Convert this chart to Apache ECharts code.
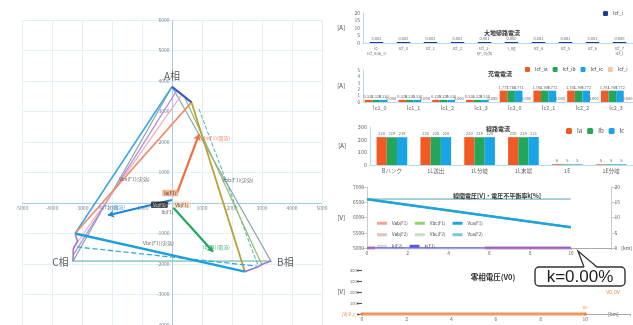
<!DOCTYPE html>
<html><head><meta charset="utf-8">
<script src="https://cdn.jsdelivr.net/npm/echarts/dist/echarts.min.js"></script>
<style>html,body{margin:0;padding:0;background:#fff}#c{width:633px;height:325px}</style>
</head><body><div id="c"></div>
<script>
const JP = '"Noto Sans CJK JP", "Noto Sans", sans-serif';

// ---- phasor diagram (V) ----
const srcA = [0, 3810], srcB = [3300, -1905], srcC = [-3300, -1905];
const fltA = [650, 3300], fltB = [2430, -2250], fltC = [-3230, -1000];
const sourceTriangle = [srcA, srcB, srcC, srcA];
const baseCB = [srcC, srcB];
const lineACblue = [srcA, fltC];
const lineACpink = [[330, 3560], [-3270, -1450]];
const lineACpurple = [[170, 3700], [-3290, -1700]];
const lineACorange = [fltA, fltC];
const lineABorange = [fltA, fltB];
const lineABgreen = [[420, 3470], [3000, -2030]];
const lineABdash = [[900, 3080], [2880, -2080]];
const lineCBblue = [fltC, fltB];
const lineCBdash = [[-3170, -1440], [2830, -2070]];
const stubA = [srcA, [320, 3560], fltA];
const stubB = [fltB, [2850, -2100], [3050, -1990], srcB];
const stubC = [fltC, [-3150, -1250], [-3290, -1500], srcC];
const vecIa = [[170, 330], [900, 2250]];
const vecIb = [[40, -150], [1370, -1600]];
const vecIc = [[0, 100], [-2130, -400]];
const phaseNames = [['A相', [0, 4150]], ['B相', [3780, -1950]], ['C相', [-3720, -1950]]];
const voltageNotes = [['Vca(F1)(実効)', [-1250, 800]], ['Vab(F1)(実効)', [2200, 750]], ['Vbc(F1)(実効)', [-450, -1300]]];
const currentNotes = [['Ia(F1)(電流)', [1500, 2130], '#f06a3c'], ['Ib(F1)(電流)', [1480, -1450], '#21a05a'], ['Ic(F1)(電流)', [-2000, -130], '#1f86d6']];
const originTags = [['Ia(F1)', [-60, 330], '#f3a47a', '#222'], ['Vc(F1)', [-420, -60], '#222', '#fff'], ['Vb(F1)', [330, -60], '#f6d4b0', '#222'], ['Ib(F1)', [-150, -290], 'transparent', '#333']];

// tick values of the phasor plane
const planeXTicks = [-5000, -4000, -3000, -2000, -1000, 1000, 2000, 3000, 4000, 5000];
const planeYTicks = [-4000, -3000, -2000, -1000, 0, 1000, 2000, 3000, 4000, 5000, 6000];
const planeXRange = [-5000, 5000], planeYRange = [-4000, 6000];

// ---- ground return current ----
const r1Cats = ['Ic-\nIcf_0(a)_0', 'Icf_0', 'Icf_1', 'Icf_2', 'Icf_3-\nI(F_0)(b)', 'I_0g', 'Icf_4', 'Icf_5', 'Icf_6', 'Icf_7\nIcf_i'];
const r1Icf = [0.002, 0.002, 0.002, 0.002, 0.001, 0.000, 0.001, 0.001, 0.001, 0.000];

// ---- charging current ----
const r2Cats = ['Ic1_0', 'Ic1_1', 'Ic1_2', 'Ic1_3', 'Ic2_0', 'Ic2_1', 'Ic2_2', 'Ic2_3'];
const icfIa = [0.332, 0.329, 0.329, 0.331, 1.777, 1.781, 1.781, 1.781];
const icfIb = [0.329, 0.329, 0.329, 0.329, 1.768, 1.769, 1.769, 1.769];
const icfIc = [0.330, 0.330, 0.330, 0.330, 1.771, 1.772, 1.772, 1.772];
const icfIsum = [0.000, 0.000, 0.000, 0.000, 0.000, 0.000, 0.000, 0.000];

// ---- line current ----
const r3Cats = ['Bバンク', '1L送出', '1L分岐', '1L末端', '1E', '1E分岐'];
const lineIa = [220, 220, 220, 220, 6, 5];
const lineIb = [219, 220, 219, 219, 5, 5];
const lineIc = [219, 220, 220, 221, 5, 5];

// ---- line voltage / unbalance ----
const distKm = [0, 10];
const vabF1 = [6600, 5679], vbcF1 = [6600, 5679], vcaF1 = [6600, 5679];
const vabF2 = [6601, 6601], vbcF2 = [6604, 6604], vcaF2 = [6604, 6604];
const kF1 = [0, 0], kF2 = [0, 0];

// ---- zero-sequence voltage ----
const v0F1 = [0, 0], v0F2 = [0, 0];

const plain = v => String(v);
const pts = (ys) => distKm.map((d, i) => [d, ys[i]]);
const lineCol = (coords, color, width, type, z) => ({
  type: 'lines', coordinateSystem: 'cartesian2d', xAxisIndex: 0, yAxisIndex: 0,
  polyline: coords.length > 2, silent: true, z: z || 2,
  data: [{ coords: coords }], lineStyle: { color: color, width: width, type: type || 'solid', opacity: 1 }
});
const vector = (coords, color) => ({
  type: 'lines', coordinateSystem: 'cartesian2d', xAxisIndex: 0, yAxisIndex: 0, z: 4,
  symbol: ['none', 'arrow'], symbolSize: 6, silent: true,
  data: [{ coords: coords }], lineStyle: { color: color, width: 2.2, opacity: 1 }
});
const notes = (list, label) => ({
  type: 'scatter', xAxisIndex: 0, yAxisIndex: 0, symbolSize: 1, z: 6, silent: true,
  itemStyle: { color: 'transparent' },
  data: list.map(n => ({ name: n[0], value: n[1],
    label: Object.assign({}, label, n[2] ? (n[3] ? { backgroundColor: n[2], color: n[3] } : { color: n[2] }) : {}) })),
  label: Object.assign({ show: true, position: 'inside', formatter: '{b}', fontFamily: JP }, label)
});
const tickLabels = (data, position, fmt) => ({
  type: 'scatter', xAxisIndex: 0, yAxisIndex: 0, symbolSize: 1, silent: true, z: 1,
  itemStyle: { color: 'transparent' }, data: data,
  label: { show: true, position: position, distance: 2, fontSize: 5, color: '#5a6b7b', formatter: fmt }
});

const smallAxis = { fontSize: 5, color: '#666', margin: 3, fontFamily: JP, formatter: plain };
const barLabel = (digits) => ({ show: true, position: 'top', distance: 1.5, fontSize: 4, color: '#666',
  formatter: p => p.value.toFixed(digits) });
const endLabel = (arr, name, offset, fmt) => distKm.map((d, i) => {
  const item = { value: [d, arr[i]] };
  if (i === distKm.length - 1) item.label = { show: true, position: 'inside', offset: offset, fontSize: 4.5, color: '#555',
    formatter: fmt || (name + ', ' + arr[i]) };
  return item;
});

const option = {
  animation: false,
  textStyle: { fontFamily: JP },
  title: [
    { text: '大地帰路電流', left: 497, top: 25, textAlign: 'center', textStyle: { fontSize: 6, fontWeight: 'bold', color: '#333' } },
    { text: '充電電流', left: 495, top: 66, textAlign: 'center', textStyle: { fontSize: 6, fontWeight: 'bold', color: '#333' } },
    { text: '線路電流', left: 493, top: 121, textAlign: 'center', textStyle: { fontSize: 6, fontWeight: 'bold', color: '#333' } },
    { text: '線間電圧[V]・電圧不平衡率k[%]', left: 492, top: 188, textAlign: 'center', textStyle: { fontSize: 6, fontWeight: 'bold', color: '#333' } },
    { text: '零相電圧(V0)', left: 488, top: 268, textAlign: 'center', textStyle: { fontSize: 7.5, fontWeight: 'bold', color: '#333' } }
  ],
  legend: [
    { data: ['Icf_i'], left: 603, top: 11, itemWidth: 5, itemHeight: 5, textStyle: { fontSize: 5, color: '#444' }, padding: 0 },
    { data: ['Icf_ia', 'Icf_ib', 'Icf_ic', 'Icf_i '], left: 525, top: 67, itemWidth: 5, itemHeight: 5, itemGap: 5,
      textStyle: { fontSize: 5, color: '#444' }, padding: 0 },
    { data: ['Ia', 'Ib', 'Ic'], left: 566, top: 128, itemWidth: 6, itemHeight: 6, itemGap: 5, width: 70,
      textStyle: { fontSize: 6, color: '#444' }, padding: 0 },
    { data: ['Vab(F1)', 'Vbc(F1)', 'Vca(F1)', 'Vab(F2)', 'Vbc(F2)', 'Vca(F2)', 'k(F2)', 'k(F1)'],
      left: 375, top: 220, width: 112, itemWidth: 10, itemHeight: 3, itemGap: 7,
      icon: 'rect', textStyle: { fontSize: 4.5, color: '#444' }, padding: [1, 2], backgroundColor: '#fff' }
  ],
  grid: [
    { left: 22, top: 20, width: 300, height: 305 },
    { left: 363, top: 13, width: 270, height: 30 },
    { left: 363, top: 70, width: 270, height: 32 },
    { left: 370, top: 127, width: 263, height: 38 },
    { left: 367, top: 187, width: 254, height: 61 },
    { left: 362, top: 270, width: 270, height: 44 }
  ],
  xAxis: [
    { type: 'value', gridIndex: 0, min: planeXRange[0], max: planeXRange[1], interval: 1000,
      axisLine: { show: false }, axisTick: { show: false },
      axisLabel: { show: false }, splitLine: { lineStyle: { color: '#e4f0f9' } } },
    { type: 'category', gridIndex: 1, data: r1Cats, axisLine: { lineStyle: { color: '#bcd9ee' } }, axisTick: { show: false },
      axisLabel: Object.assign({}, smallAxis, { fontSize: 4, interval: 0, lineHeight: 5 }) },
    { type: 'category', gridIndex: 2, data: r2Cats, axisLine: { lineStyle: { color: '#bcd9ee' } }, axisTick: { show: false },
      axisLabel: Object.assign({}, smallAxis, { fontSize: 5.5, interval: 0 }) },
    { type: 'category', gridIndex: 3, data: r3Cats, axisLine: { lineStyle: { color: '#bcd9ee' } }, axisTick: { show: false },
      axisLabel: Object.assign({}, smallAxis, { fontSize: 5.5, interval: 0 }) },
    { type: 'value', gridIndex: 4, min: 0, max: 12, interval: 2,
      axisLine: { onZero: false, lineStyle: { color: '#aaa' } }, axisTick: { length: 2 }, splitLine: { show: false },
      axisLabel: Object.assign({}, smallAxis, { formatter: v => v === 12 ? '' : String(v) }),
      name: '[km]', nameLocation: 'end', nameGap: -3, nameTextStyle: { fontSize: 5, color: '#555', padding: [16, 0, 0, 0] } },
    { type: 'value', gridIndex: 5, min: 0, max: 12, interval: 2,
      axisLine: { onZero: false, lineStyle: { color: '#aaa' } }, axisTick: { length: 2 }, splitLine: { show: false },
      axisLabel: Object.assign({}, smallAxis, { formatter: v => v === 12 ? '' : String(v) }),
      name: '[km]', nameLocation: 'end', nameGap: -22, nameTextStyle: { fontSize: 5, color: '#555', padding: [16, 0, 0, 0] } }
  ],
  yAxis: [
    { type: 'value', gridIndex: 0, min: planeYRange[0], max: planeYRange[1], interval: 1000,
      axisLine: { show: false }, axisTick: { show: false },
      axisLabel: { show: false }, splitLine: { lineStyle: { color: '#e4f0f9' } } },
    { type: 'value', gridIndex: 1, min: 0, max: 20, interval: 5, splitLine: { show: false },
      axisLine: { show: true, lineStyle: { color: '#bcd9ee' } }, axisLabel: smallAxis,
      name: '[A]', nameLocation: 'middle', nameGap: 18, nameRotate: 0, nameTextStyle: { fontSize: 6, color: '#444' } },
    { type: 'value', gridIndex: 2, min: 0, max: 5, interval: 1, splitLine: { show: false },
      axisLine: { show: true, lineStyle: { color: '#bcd9ee' } }, axisLabel: Object.assign({}, smallAxis, { fontSize: 4.5 }),
      name: '[A]', nameLocation: 'middle', nameGap: 18, nameRotate: 0, nameTextStyle: { fontSize: 6, color: '#444' } },
    { type: 'value', gridIndex: 3, min: 0, max: 300, interval: 100, splitLine: { show: false },
      axisLine: { show: true, lineStyle: { color: '#bcd9ee' } }, axisLabel: Object.assign({}, smallAxis, { fontSize: 5.5 }),
      name: '[A]', nameLocation: 'middle', nameGap: 24, nameRotate: 0, nameTextStyle: { fontSize: 6, color: '#444' } },
    { type: 'value', gridIndex: 4, min: 5000, max: 7000, interval: 500, splitLine: { show: false },
      axisLine: { show: true, lineStyle: { color: '#ccc' } }, axisLabel: smallAxis,
      name: '[V]', nameLocation: 'middle', nameGap: 22, nameRotate: 0, nameTextStyle: { fontSize: 6, color: '#444' } },
    { type: 'value', gridIndex: 4, position: 'right', min: 0, max: 20, interval: 5, splitLine: { show: false },
      axisLine: { show: true, lineStyle: { color: '#ccc' } }, axisLabel: smallAxis },
    { type: 'value', gridIndex: 5, min: 0, max: 4000, interval: 1000, splitLine: { show: false },
      axisLine: { show: false }, axisLabel: Object.assign({}, smallAxis, { fontSize: 4 }),
      name: '[V]', nameLocation: 'middle', nameGap: 17, nameRotate: 0, nameTextStyle: { fontSize: 6, color: '#444' } }
  ],
  series: [
    // axes of the phasor plane, crossing at the origin
    lineCol([[planeXRange[0], 0], [planeXRange[1], 0]], '#a3cdea', 1, 'solid', 1),
    lineCol([[0, planeYRange[0]], [0, planeYRange[1]]], '#a3cdea', 1, 'solid', 1),
    tickLabels(planeXTicks.map(v => [v, 0]), 'bottom', p => String(p.value[0])),
    tickLabels(planeYTicks.map(v => [0, v]), 'left', p => String(p.value[1])),
    // phasor diagram
    lineCol(sourceTriangle, '#8aa6a9', 1.2),
    lineCol(baseCB, '#8fd8c8', 1.2),
    lineCol(lineACpurple, '#b58ad8', 1.2),
    lineCol(lineACpink, '#f0a8c8', 1.2),
    lineCol(lineACblue, '#3ea6e6', 1.6),
    lineCol(lineACorange, '#f28a68', 1.6),
    lineCol(lineABdash, '#3bb7b0', 1, 'dashed'),
    lineCol(lineABgreen, '#9ab86a', 1.2),
    lineCol(lineABorange, '#b9a23a', 1.8),
    lineCol(lineCBdash, '#3aa8e0', 1.3, 'dashed'),
    lineCol(lineCBblue, '#1e9fdc', 2.4, 'solid', 3),
    lineCol(stubA, '#3a5cc8', 2.2, 'solid', 3),
    lineCol(stubB, '#9a7ad0', 1.6, 'solid', 3),
    lineCol(stubC, '#9a7ad0', 1.6, 'solid', 3),
    vector(vecIa, '#f26b3f'),
    vector(vecIb, '#22a763'),
    vector(vecIc, '#1f86d6'),
    notes(phaseNames, { fontSize: 10, color: '#333' }),
    notes(voltageNotes, { fontSize: 5, color: '#444' }),
    notes(currentNotes, { fontSize: 5 }),
    notes(originTags, { fontSize: 4.5, padding: [1, 2], borderRadius: 1 }),

    // ground return current
    { type: 'bar', name: 'Icf_i', xAxisIndex: 1, yAxisIndex: 1, data: r1Icf, barWidth: '50%', barMinHeight: 1,
      itemStyle: { color: '#1b3f8f' }, label: barLabel(3) },

    // charging current
    { type: 'bar', name: 'Icf_ia', xAxisIndex: 2, yAxisIndex: 2, data: icfIa, barGap: '0%', barCategoryGap: '10%',
      itemStyle: { color: '#f15a24' }, label: barLabel(3) },
    { type: 'bar', name: 'Icf_ib', xAxisIndex: 2, yAxisIndex: 2, data: icfIb, itemStyle: { color: '#23a55a' }, label: barLabel(3) },
    { type: 'bar', name: 'Icf_ic', xAxisIndex: 2, yAxisIndex: 2, data: icfIc, itemStyle: { color: '#18a4e6' }, label: barLabel(3) },
    { type: 'bar', name: 'Icf_i ', xAxisIndex: 2, yAxisIndex: 2, data: icfIsum, itemStyle: { color: '#f9c6a4' }, label: barLabel(3) },

    // line current
    { type: 'bar', name: 'Ia', xAxisIndex: 3, yAxisIndex: 3, data: lineIa, barGap: '0%', barCategoryGap: '30%',
      itemStyle: { color: '#f15a24' }, label: barLabel(0) },
    { type: 'bar', name: 'Ib', xAxisIndex: 3, yAxisIndex: 3, data: lineIb, itemStyle: { color: '#23a55a' }, label: barLabel(0) },
    { type: 'bar', name: 'Ic', xAxisIndex: 3, yAxisIndex: 3, data: lineIc, itemStyle: { color: '#18a4e6' }, label: barLabel(0) },

    // line voltage and unbalance factor
    { type: 'line', name: 'Vab(F2)', xAxisIndex: 4, yAxisIndex: 4, data: endLabel(vabF2, 'Vab(F2)', [0, 7]),
      symbol: 'none', lineStyle: { color: '#d8c8c0', width: 1 }, itemStyle: { color: '#d8c8c0' } },
    { type: 'line', name: 'Vbc(F2)', xAxisIndex: 4, yAxisIndex: 4, data: endLabel(vbcF2, 'Vbc(F2)', [2, -6]),
      symbol: 'none', lineStyle: { color: '#c8dcc8', width: 1 }, itemStyle: { color: '#c8dcc8' } },
    { type: 'line', name: 'Vca(F2)', xAxisIndex: 4, yAxisIndex: 4, data: endLabel(vcaF2, 'Vca(F2)', [14, 0]),
      symbol: 'none', lineStyle: { color: '#7cc4d8', width: 1 }, itemStyle: { color: '#7cc4d8' } },
    { type: 'line', name: 'Vab(F1)', xAxisIndex: 4, yAxisIndex: 4, data: endLabel(vabF1, 'Vab(F1)', [-5, 7]),
      symbol: 'none', lineStyle: { color: '#f4a294', width: 2 }, itemStyle: { color: '#f4a294' } },
    { type: 'line', name: 'Vbc(F1)', xAxisIndex: 4, yAxisIndex: 4, data: endLabel(vbcF1, 'Vbc(F1)', [-5, -6]),
      symbol: 'none', lineStyle: { color: '#8fd16a', width: 2 }, itemStyle: { color: '#8fd16a' } },
    { type: 'line', name: 'Vca(F1)', xAxisIndex: 4, yAxisIndex: 4,
      data: endLabel(vcaF1, 'Vca(F1)', [18, 0]).map((it, i) => i === 0 ? Object.assign(it, {
        label: { show: true, position: 'right', distance: 3, fontSize: 4.5, color: '#555', formatter: String(vcaF1[0]) } }) : it),
      symbol: 'none', lineStyle: { color: '#1ea4e0', width: 2.4 }, itemStyle: { color: '#1ea4e0' }, z: 4 },
    { type: 'line', name: 'k(F2)', xAxisIndex: 4, yAxisIndex: 5, data: pts(kF2),
      symbol: 'none', lineStyle: { color: '#f19ab2', width: 3.5 }, itemStyle: { color: '#d8d8e0' } },
    { type: 'line', name: 'k(F1)', xAxisIndex: 4, yAxisIndex: 5,
      data: endLabel(kF1, 'k(F1)', [22, -3], 'kF1[%], ' + kF1[kF1.length - 1].toFixed(3) + '%'),
      symbol: 'none', lineStyle: { color: '#5b5bd6', width: 1.6 }, itemStyle: { color: '#5b5bd6' }, z: 5 },

    // zero-sequence voltage
    { type: 'line', name: 'V0(F2)', xAxisIndex: 5, yAxisIndex: 6, data: pts(v0F2),
      symbol: 'circle', symbolSize: 3, lineStyle: { color: '#f9c7a6', width: 4 }, itemStyle: { color: '#f9c7a6' },
      label: { show: true, position: 'left', fontSize: 4.5, color: '#f08040', distance: 4,
        formatter: p => p.dataIndex === 0 ? '[V] 0 ∠' : '' } },
    { type: 'line', name: 'V0(F1)', xAxisIndex: 5, yAxisIndex: 6, data: pts(v0F1),
      symbol: 'circle', symbolSize: 3, lineStyle: { color: '#ef7f3e', width: 1.4 }, itemStyle: { color: '#ef7f3e' },
      label: { show: true, position: 'top', fontSize: 4, color: '#f08040', distance: 3,
        formatter: p => p.dataIndex === distKm.length - 1 ? p.value[1] + 'V' : '' } }
  ],
  graphic: [
    { type: 'rect', shape: { x: 535, y: 267, width: 90, height: 19, r: 4 }, style: { fill: '#fff', stroke: '#333', lineWidth: 1.4 }, z: 50 },
    { type: 'polygon', shape: { points: [[584, 268], [597, 268], [578, 251]] }, style: { fill: '#fff' }, z: 51 },
    { type: 'polyline', shape: { points: [[584, 267], [578, 251], [597, 267]] }, style: { stroke: '#333', lineWidth: 1.3, fill: null }, z: 52 },
    { type: 'text', x: 580, y: 277, style: { text: 'k=0.00%', fontSize: 17, fill: '#222', fontFamily: '"Liberation Sans", Arial, sans-serif',
        align: 'center', verticalAlign: 'middle' }, z: 53 },
    { type: 'text', x: 613, y: 293, style: { text: 'V0, 0V', fontSize: 4.5, fill: '#f08040', align: 'center', verticalAlign: 'middle' }, z: 53 }
  ]
};

const chart = echarts.init(document.getElementById('c'));
chart.setOption(option);
</script></body></html>
